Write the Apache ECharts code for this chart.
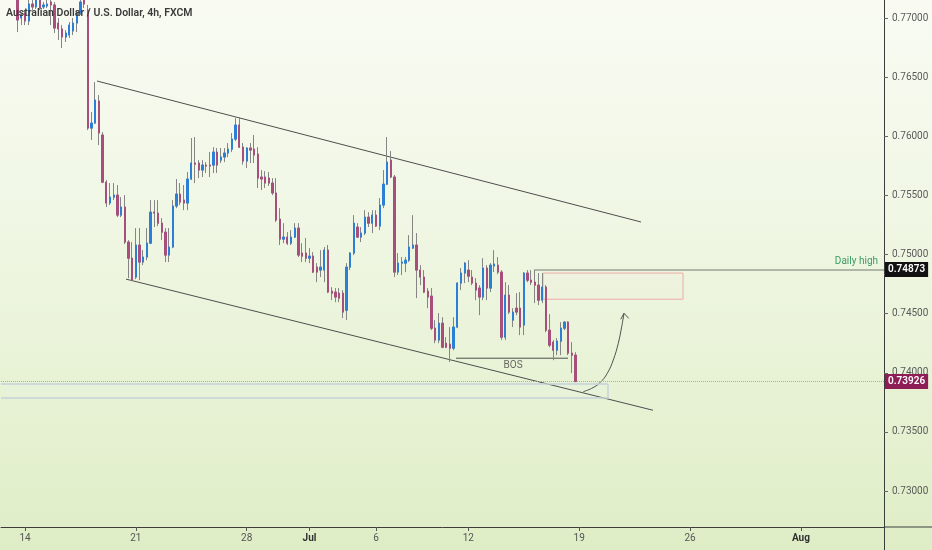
<!DOCTYPE html>
<html><head><meta charset="utf-8">
<script src="https://cdn.jsdelivr.net/npm/echarts@6/dist/echarts.min.js"></script>
<style>
html,body{margin:0;padding:0;}
#chart{width:932px;height:550px;background:linear-gradient(180deg,#f9fbf3 0%,#f2f8e8 30%,#edf5df 50%,#e7f2d4 72%,#dfedc6 100%);}
</style></head><body><div id="chart"></div>
<script>
// ---- time slots (4h candles) and tick labels ----
const slotCount = 239;
const firstCandleSlot = 4;
const tickSlots = [6, 36, 66, 83, 101, 126, 156, 186, 216];
const tickLabels = ['14', '21', '28', 'Jul', '6', '12', '19', '26', 'Aug'];
const monthLabels = ['Jul', 'Aug'];

// ---- price scale ----
const priceMin = 0.725, priceMax = 0.775, priceStep = 0.005;

// ---- OHLC values ----
const opens = [
 0.77220,0.77000,0.77042,0.76974,0.77118,0.77093,0.77169,0.77093,0.77101,0.77135,
 0.77110,0.76957,0.76907,0.76839,0.76856,0.76890,0.76957,0.77042,0.77169,0.77067,
 0.76069,0.76111,0.76298,0.76010,0.75612,0.75435,0.75485,0.75502,0.75333,0.75401,
 0.75105,0.74969,0.74809,0.75080,0.74936,0.74978,0.75096,0.75358,0.75350,0.75265,
 0.75189,0.74995,0.75063,0.75410,0.75511,0.75460,0.75435,0.75638,0.75773,0.75773,
 0.75714,0.75756,0.75756,0.75756,0.75866,0.75798,0.75824,0.75858,0.75891,0.75976,
 0.76095,0.75908,0.75790,0.75900,0.75891,0.75849,0.75655,0.75655,0.75646,0.75604,
 0.75520,0.75299,0.75130,0.75147,0.75096,0.75147,0.75223,0.75012,0.75012,0.74969,
 0.74986,0.74893,0.74868,0.74868,0.75037,0.74690,0.74682,0.74673,0.74673,0.74529,
 0.74893,0.75012,0.75232,0.75147,0.75181,0.75316,0.75265,0.75333,0.75240,0.75418,
 0.75595,0.75798,0.75655,0.74851,0.74927,0.74927,0.74952,0.75054,0.75080,0.74868,
 0.74809,0.74690,0.74648,0.74377,0.74276,0.74419,0.74250,0.74242,0.74208,0.74386,
 0.74758,0.74843,0.74868,0.74809,0.74758,0.74716,0.74640,0.74885,0.74716,0.74902,
 0.74910,0.74851,0.74301,0.74656,0.74445,0.74546,0.74546,0.74403,0.74843,0.74783,
 0.74766,0.74741,0.74614,0.74724,0.74360,0.74259,0.74191,0.74267,0.74377,0.74428,
 0.74166,0.74149
];
const highs = [
 0.77279,0.77042,0.77067,0.77152,0.77152,0.77203,0.77194,0.77135,0.77152,0.77177,
 0.77135,0.77000,0.76940,0.76898,0.76966,0.77000,0.77067,0.77203,0.77220,0.77110,
 0.76205,0.76458,0.76348,0.76035,0.75629,0.75604,0.75604,0.75587,0.75485,0.75502,
 0.75122,0.75105,0.75223,0.75223,0.75037,0.75223,0.75460,0.75460,0.75460,0.75308,
 0.75223,0.75223,0.75460,0.75638,0.75604,0.75587,0.75697,0.75985,0.75993,0.75798,
 0.75798,0.75781,0.75866,0.75908,0.75900,0.75900,0.75900,0.75942,0.76027,0.76154,
 0.76162,0.75942,0.75908,0.75942,0.76010,0.75908,0.75714,0.75705,0.75697,0.75646,
 0.75646,0.75392,0.75265,0.75189,0.75206,0.75265,0.75265,0.75096,0.75139,0.75054,
 0.75020,0.74927,0.75037,0.75063,0.75080,0.74724,0.74716,0.74716,0.74699,0.74927,
 0.75020,0.75333,0.75265,0.75232,0.75375,0.75358,0.75375,0.75375,0.75477,0.75714,
 0.75993,0.75875,0.75672,0.75012,0.74978,0.74978,0.75164,0.75333,0.75181,0.74910,
 0.74868,0.74716,0.74716,0.74445,0.74504,0.74470,0.74301,0.74386,0.74470,0.74766,
 0.74885,0.74936,0.74952,0.74868,0.74800,0.74741,0.74969,0.74910,0.74927,0.75037,
 0.74978,0.74868,0.74766,0.74741,0.74546,0.74673,0.74682,0.74851,0.74868,0.74868,
 0.74873,0.74843,0.74843,0.74741,0.74496,0.74276,0.74293,0.74428,0.74436,0.74436,
 0.74259,0.74174
];
const lows = [
 0.76881,0.76940,0.76940,0.76940,0.77067,0.77076,0.77067,0.77076,0.77084,0.76940,
 0.76873,0.76814,0.76746,0.76797,0.76831,0.76856,0.76881,0.77025,0.77084,0.76052,
 0.75968,0.76103,0.75925,0.75603,0.75401,0.75418,0.75460,0.75316,0.75316,0.75088,
 0.74800,0.74775,0.74792,0.74783,0.74910,0.74952,0.75088,0.75232,0.75240,0.75122,
 0.74936,0.74936,0.75054,0.75392,0.75418,0.75375,0.75375,0.75629,0.75604,0.75646,
 0.75655,0.75689,0.75655,0.75689,0.75689,0.75773,0.75781,0.75824,0.75866,0.75959,
 0.75900,0.75760,0.75731,0.75773,0.75773,0.75562,0.75545,0.75562,0.75579,0.75502,
 0.75274,0.75080,0.75096,0.75080,0.75080,0.75139,0.74978,0.74936,0.74936,0.74927,
 0.74843,0.74766,0.74809,0.74766,0.74673,0.74614,0.74597,0.74597,0.74462,0.74445,
 0.74868,0.74995,0.75139,0.75105,0.75164,0.75232,0.75181,0.75232,0.75206,0.75392,
 0.75587,0.75646,0.74809,0.74826,0.74826,0.74851,0.74936,0.75046,0.74631,0.74741,
 0.74673,0.74546,0.74360,0.74250,0.74250,0.74208,0.74208,0.74090,0.74191,0.74377,
 0.74699,0.74758,0.74766,0.74741,0.74614,0.74487,0.74614,0.74614,0.74682,0.74851,
 0.74834,0.74276,0.74276,0.74496,0.74386,0.74487,0.74318,0.74318,0.74766,0.74741,
 0.74589,0.74572,0.74589,0.74343,0.74216,0.74106,0.74149,0.74149,0.74360,0.74149,
 0.73997,0.73920
];
const closes = [
 0.76983,0.77025,0.76974,0.77118,0.77093,0.77169,0.77084,0.77110,0.77118,0.77110,
 0.76915,0.76907,0.76839,0.76873,0.76940,0.76957,0.77042,0.77135,0.77118,0.76069,
 0.76111,0.76306,0.76027,0.75612,0.75435,0.75485,0.75502,0.75333,0.75401,0.75105,
 0.74969,0.74783,0.75080,0.74936,0.74978,0.75096,0.75358,0.75350,0.75265,0.75189,
 0.74995,0.75063,0.75410,0.75511,0.75443,0.75435,0.75638,0.75773,0.75764,0.75714,
 0.75756,0.75748,0.75748,0.75866,0.75756,0.75824,0.75858,0.75891,0.75976,0.76095,
 0.75908,0.75790,0.75900,0.75883,0.75841,0.75646,0.75638,0.75604,0.75604,0.75520,
 0.75291,0.75130,0.75147,0.75096,0.75147,0.75223,0.74995,0.74986,0.74969,0.74986,
 0.74851,0.74851,0.74893,0.75037,0.74682,0.74673,0.74640,0.74631,0.74513,0.74893,
 0.75012,0.75265,0.75147,0.75181,0.75316,0.75265,0.75333,0.75240,0.75418,0.75595,
 0.75781,0.75655,0.74851,0.74927,0.74936,0.74952,0.75063,0.75080,0.74868,0.74809,
 0.74682,0.74640,0.74377,0.74276,0.74419,0.74216,0.74216,0.74208,0.74386,0.74758,
 0.74843,0.74927,0.74817,0.74758,0.74699,0.74640,0.74885,0.74716,0.74910,0.74919,
 0.74851,0.74301,0.74656,0.74513,0.74513,0.74513,0.74386,0.74843,0.74783,0.74766,
 0.74741,0.74614,0.74724,0.74360,0.74233,0.74191,0.74267,0.74377,0.74428,0.74166,
 0.74149,0.73926
];

// ---- drawings (slot, price) ----
const upperChannel = [[25.48, 0.76467], [172.72, 0.75275]];
const lowerChannel = [[33.33, 0.74792], [175.97, 0.73683]];
const bosLevel = 0.74123;
const bosRange = [122.65, 152.97];
const bosLabelSlot = 138.1;
const dailyHigh = 0.74873;
const dailyHighStart = 144;
const lastPrice = 0.73926;
const supplyZone = [[146.2, 0.74843], [184.1, 0.74622]];
const demandZone = [[-0.5, 0.73903], [163.8, 0.73785]];
const arrowPath = [[157.11,0.73840],[159.38,0.73868],[161.64,0.73916],[163.60,0.73995],
                   [165.23,0.74108],[166.58,0.74249],[167.50,0.74389],[168.13,0.74503]];
const arrowHead = [[167.25,0.74452],[168.13,0.74503],[169.40,0.74460]];

// ---- build ----
const categories = Array.from({length: slotCount}, (_, i) => {
  const t = tickSlots.indexOf(i);
  return t >= 0 ? tickLabels[t] : '';
});
const candleData = opens.map((o, k) => [firstCandleSlot + k, o, closes[k], lows[k], highs[k]]);
const bodyData = opens.map((o, k) => [firstCandleSlot + k, o, closes[k], Math.min(o, closes[k]), Math.max(o, closes[k])]);
const showTick = (idx) => tickSlots.indexOf(idx) >= 0;

const UP = '#2b7fd6', DOWN = '#a84e7c', WICK = '#858585';
const FONT = 'Roboto, "Liberation Sans", sans-serif';
const ZONE_EDGE = {type: 'solid', color: '#c6d2da', width: 1.5};
const [dz0, dz1] = demandZone;

const chart = echarts.init(document.getElementById('chart'), null, {renderer: 'canvas'});
chart.setOption({
  animation: false,
  backgroundColor: 'transparent',
  textStyle: {fontFamily: FONT},
  title: {
    text: 'Australian Dollar / U.S. Dollar, 4h, FXCM',
    left: 6, top: 8, padding: 0,
    textStyle: {fontSize: 10.5, fontWeight: 600, color: '#3a3a3a', fontFamily: FONT}
  },
  grid: {left: 1, right: 48, top: -41.125, bottom: -0.125, containLabel: false, outerBoundsMode: 'none'},
  xAxis: [{
    type: 'category', data: categories, boundaryGap: true, offset: -23.125,
    axisLine: {show: true, onZero: false, lineStyle: {color: '#3c3c3c', width: 1}},
    axisTick: {show: true, alignWithLabel: true, interval: showTick, length: 4, lineStyle: {color: '#555'}},
    axisLabel: {
      interval: showTick, margin: 6, fontSize: 10, color: '#555', hideOverlap: false,
      formatter: v => monthLabels.indexOf(v) >= 0 ? '{m|' + v + '}' : v,
      rich: {m: {fontWeight: 'bold', color: '#333', fontSize: 10, fontFamily: FONT}}
    },
    splitLine: {show: false}
  }, {
    type: 'value', min: -0.5, max: slotCount - 0.5, show: false
  }],
  yAxis: {
    type: 'value', position: 'right', min: priceMin, max: priceMax, interval: priceStep, scale: true,
    splitLine: {show: false},
    axisLine: {show: true, onZero: false, lineStyle: {color: '#3c3c3c', width: 1}},
    axisTick: {show: true, length: 4, lineStyle: {color: '#666'}},
    axisLabel: {
      margin: 8, fontSize: 10, color: '#5a5a5a', hideOverlap: false,
      formatter: v => (v <= priceMin + 1e-9 || v >= priceMax - 1e-9) ? '' : v.toFixed(5)
    }
  },
  graphic: [{
    type: 'line', silent: true, z: 10,
    shape: {x1: 884, y1: 527, x2: 932, y2: 527},
    style: {stroke: '#3c3c3c', lineWidth: 1}
  }],
  series: [
    {
      type: 'line', xAxisIndex: 1, data: bosRange.map(s => [s, bosLevel]), clip: false,
      symbol: 'none', silent: true, lineStyle: {color: '#505050', width: 1}, z: 3,
      markArea: {
        silent: true,
        data: [
          [{coord: supplyZone[0], itemStyle: {color: 'rgba(255,235,230,0.08)', borderColor: '#eeaaa2', borderWidth: 1}},
           {coord: supplyZone[1]}],
          [{coord: demandZone[0], itemStyle: {color: 'rgba(232,240,245,0.15)', borderWidth: 0}},
           {coord: demandZone[1]}]
        ]
      },
      markLine: {
        silent: true, symbol: ['none', 'none'], animation: false, precision: 5,
        data: [
          [{coord: [dz0[0], dz0[1]], lineStyle: ZONE_EDGE, label: {show: false}}, {coord: [dz1[0], dz0[1]]}],
          [{coord: [dz0[0], dz1[1]], lineStyle: ZONE_EDGE, label: {show: false}}, {coord: [dz1[0], dz1[1]]}],
          [{coord: [dz1[0], dz0[1]], lineStyle: ZONE_EDGE, label: {show: false}}, {coord: [dz1[0], dz1[1]]}],
          {yAxis: lastPrice,
           lineStyle: {type: 'dotted', color: '#d6a46a', width: 1},
           label: {show: true, position: 'end', distance: 1, formatter: lastPrice.toFixed(5),
                   backgroundColor: '#8e1c55', color: '#fff', fontSize: 10, fontWeight: 600, padding: [3, 3, 2, 3]}},
          [{coord: [dailyHighStart, dailyHigh],
            lineStyle: {type: 'solid', color: '#9aa293', width: 1.5},
            label: {show: true, position: 'end', distance: 1, formatter: dailyHigh.toFixed(5),
                    backgroundColor: '#121212', color: '#fff', fontSize: 10, fontWeight: 600, padding: [3, 3, 2, 3]}},
           {coord: [slotCount - 0.5, dailyHigh]}],
          [{coord: [dailyHighStart, dailyHigh],
            lineStyle: {type: 'solid', color: 'rgba(0,0,0,0)', width: 1},
            label: {show: true, position: 'insideEndTop', distance: [6, 3], formatter: 'Daily high',
                    color: '#3a9a66', fontSize: 10}},
           {coord: [slotCount - 0.5, dailyHigh]}]
        ]
      }
    },
    {
      type: 'scatter', xAxisIndex: 1, data: [[bosLabelSlot, bosLevel]], symbolSize: 0, silent: true,
      label: {show: true, position: 'bottom', distance: 2, formatter: 'BOS', fontSize: 10, color: '#444'}
    },
    {
      type: 'line', xAxisIndex: 1, data: upperChannel, symbol: 'none', silent: true,
      lineStyle: {color: '#4d4d4d', width: 1}, z: 3
    },
    {
      type: 'line', xAxisIndex: 1, data: lowerChannel, symbol: 'none', silent: true,
      lineStyle: {color: '#4d4d4d', width: 1}, z: 3
    },
    {
      type: 'line', xAxisIndex: 1, data: arrowPath, symbol: 'none', smooth: 0.4, silent: true,
      lineStyle: {color: '#505050', width: 1}, z: 3
    },
    {
      type: 'line', xAxisIndex: 1, data: arrowHead, symbol: 'none', silent: true,
      lineStyle: {color: '#505050', width: 1}, z: 3
    },
    {
      type: 'candlestick', xAxisIndex: 0, data: candleData, encode: {x: 0, y: [1, 2, 3, 4]},
      barWidth: 1.8, silent: true, z: 4,
      itemStyle: {color: WICK, color0: WICK, borderColor: WICK, borderColor0: WICK, borderColorDoji: WICK, borderWidth: 1}
    },
    {
      type: 'candlestick', xAxisIndex: 0, data: bodyData, encode: {x: 0, y: [1, 2, 3, 4]},
      barWidth: 1.8, silent: true, z: 5,
      itemStyle: {color: UP, color0: DOWN, borderColor: UP, borderColor0: DOWN, borderColorDoji: DOWN, borderWidth: 1}
    }
  ]
});
</script>
</body></html>
